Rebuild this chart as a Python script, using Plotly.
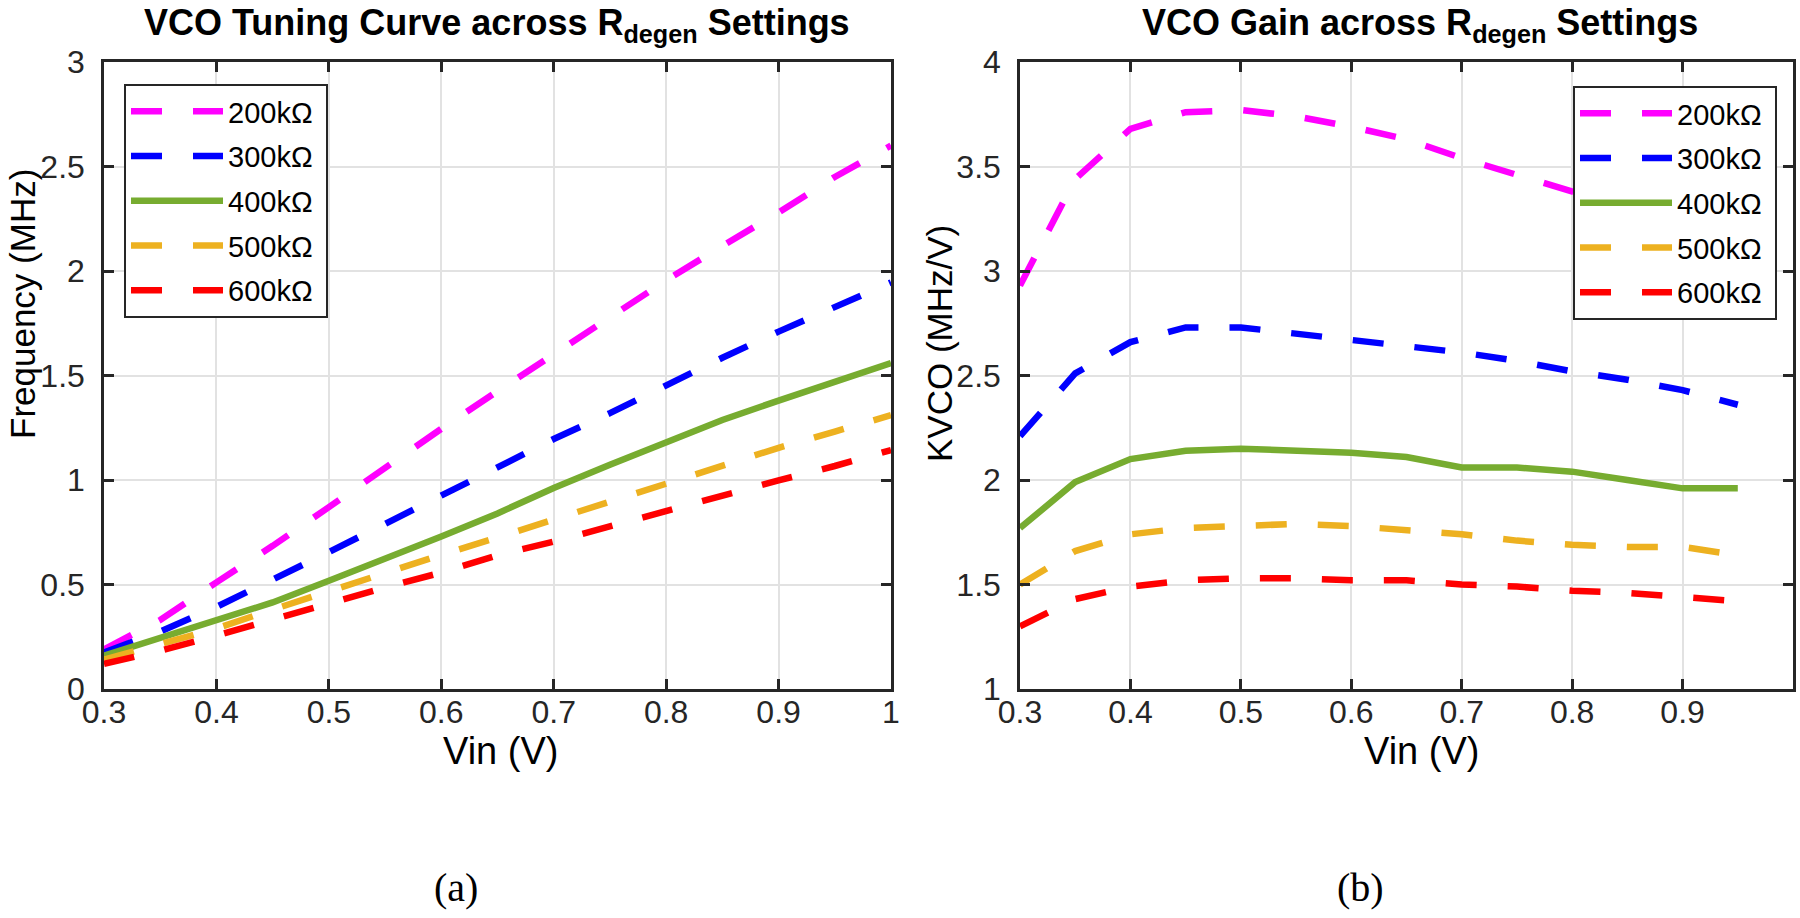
import plotly.graph_objects as go

# ---------------- data ----------------
vin_tuning = [0.30, 0.35, 0.40, 0.45, 0.50, 0.55, 0.60, 0.65, 0.70, 0.75, 0.80, 0.85, 0.90, 0.95, 1.00]
vin_gain = [0.30, 0.35, 0.40, 0.45, 0.50, 0.55, 0.60, 0.65, 0.70, 0.75, 0.80, 0.85, 0.90, 0.95]

series_names = ["200kΩ", "300kΩ", "400kΩ", "500kΩ", "600kΩ"]

freq_200k = [0.19, 0.33, 0.51, 0.685, 0.87, 1.06, 1.245, 1.425, 1.60, 1.78, 1.955, 2.12, 2.28, 2.45, 2.60]
freq_300k = [0.175, 0.275, 0.393, 0.52, 0.655, 0.79, 0.927, 1.06, 1.196, 1.32, 1.454, 1.585, 1.71, 1.83, 1.945]
freq_400k = [0.16, 0.247, 0.326, 0.414, 0.518, 0.62, 0.73, 0.84, 0.962, 1.073, 1.184, 1.287, 1.38, 1.466, 1.56]
freq_500k = [0.14, 0.218, 0.29, 0.38, 0.47, 0.553, 0.642, 0.725, 0.81, 0.90, 0.988, 1.067, 1.154, 1.232, 1.31]
freq_600k = [0.12, 0.183, 0.256, 0.334, 0.41, 0.486, 0.557, 0.64, 0.705, 0.78, 0.852, 0.923, 0.998, 1.067, 1.143]

kvco_200k = [2.93, 3.44, 3.68, 3.76, 3.77, 3.74, 3.69, 3.63, 3.54, 3.46, 3.38, 3.30, 3.22, 3.14]
kvco_300k = [2.21, 2.51, 2.66, 2.73, 2.73, 2.70, 2.67, 2.64, 2.61, 2.57, 2.52, 2.48, 2.43, 2.36]
kvco_400k = [1.77, 1.99, 2.10, 2.14, 2.15, 2.14, 2.13, 2.11, 2.06, 2.06, 2.04, 2.00, 1.96, 1.96]
kvco_500k = [1.50, 1.66, 1.74, 1.77, 1.78, 1.79, 1.78, 1.76, 1.74, 1.71, 1.69, 1.68, 1.68, 1.64]
kvco_600k = [1.30, 1.43, 1.49, 1.52, 1.53, 1.53, 1.52, 1.52, 1.50, 1.49, 1.47, 1.46, 1.44, 1.42]

x_ticks = [0.3, 0.4, 0.5, 0.6, 0.7, 0.8, 0.9, 1.0]
x_ticktext = ["0.3", "0.4", "0.5", "0.6", "0.7", "0.8", "0.9", "1"]
y1_ticks = [0, 0.5, 1, 1.5, 2, 2.5, 3]
y1_ticktext = ["0", "0.5", "1", "1.5", "2", "2.5", "3"]
y2_ticks = [1, 1.5, 2, 2.5, 3, 3.5, 4]
y2_ticktext = ["1", "1.5", "2", "2.5", "3", "3.5", "4"]

# ---------------- styles ----------------
colors = ["#FF00FF", "#0000FF", "#77AC30", "#EDB120", "#FF0000"]
dashes = ["31px,31px", "31px,31px", "solid", "31px,31px", "31px,31px"]
LW = 6.5
SANS = "Liberation Sans, Arial, Helvetica, sans-serif"
SERIF = "Liberation Serif, Times New Roman, serif"
TXT = "#262626"
NBSP = "\u00a0"

W, H = 1800, 918
def px(v):
    return v / W
def py(v):
    return 1 - v / H

freq_series = [freq_200k, freq_300k, freq_400k, freq_500k, freq_600k]
kvco_series = [kvco_200k, kvco_300k, kvco_400k, kvco_500k, kvco_600k]

fig = go.Figure()
for name, ys, c, d in zip(series_names, freq_series, colors, dashes):
    fig.add_trace(go.Scatter(x=vin_tuning, y=ys, mode="lines", name=name + NBSP,
                             line=dict(color=c, width=LW, dash=d),
                             legendgroup="a" + name,
                             xaxis="x", yaxis="y", legend="legend", hoverinfo="skip"))
for name, ys, c, d in zip(series_names, kvco_series, colors, dashes):
    fig.add_trace(go.Scatter(x=vin_gain, y=ys, mode="lines", name=name + NBSP,
                             line=dict(color=c, width=LW, dash=d),
                             legendgroup="b" + name,
                             xaxis="x2", yaxis="y2", legend="legend2", hoverinfo="skip"))

def axis(**kw):
    base = dict(showline=True, linecolor=TXT, linewidth=2.5, mirror="ticks",
                ticks="inside", ticklen=10, tickwidth=2.5, tickcolor=TXT,
                showgrid=True, gridcolor="#e2e2e2", gridwidth=1.6, zeroline=False,
                automargin=False, fixedrange=True,
                tickfont=dict(family=SANS, size=32, color=TXT))
    base.update(kw)
    return base

ydom = [py(689), py(62)]
left_dom = [px(104), px(891)]
right_dom = [px(1020), px(1793)]

def legend_cfg(x0, y0):
    return dict(x=px(x0), y=py(y0), xanchor="left", yanchor="top",
                bgcolor="white", bordercolor=TXT, borderwidth=2,
                font=dict(family=SANS, size=29, color="black"),
                itemwidth=92, tracegroupgap=4, groupclick="toggleitem")

fig.update_layout(
    template="none",
    width=W, height=H, autosize=False,
    margin=dict(l=0, r=0, t=0, b=0, pad=0),
    paper_bgcolor="white", plot_bgcolor="white",
    showlegend=True,
    xaxis=axis(domain=left_dom, range=[0.3, 1.0], tickvals=x_ticks, ticktext=x_ticktext,
               anchor="y", ticklabelstandoff=-7),
    yaxis=axis(domain=ydom, range=[0, 3], tickvals=y1_ticks, ticktext=y1_ticktext,
               anchor="x", ticklabelstandoff=10),
    xaxis2=axis(domain=right_dom, range=[0.3, 1.0], tickvals=x_ticks, ticktext=x_ticktext,
                anchor="y2", ticklabelstandoff=-7),
    yaxis2=axis(domain=ydom, range=[1, 4], tickvals=y2_ticks, ticktext=y2_ticktext,
                anchor="x2", ticklabelstandoff=10),
    legend=legend_cfg(124, 84),
    legend2=legend_cfg(1573, 86),
)

ann = []
def add_text(text, x, y, size, family, angle=0):
    ann.append(dict(text=text, x=px(x), y=py(y), xref="paper", yref="paper",
                    showarrow=False, xanchor="center", yanchor="middle",
                    textangle=angle,
                    font=dict(family=family, size=size, color="black")))

add_text("<b>VCO Tuning Curve across R<sub>degen</sub> Settings</b>", 497, 25, 36, SANS)
add_text("<b>VCO Gain across R<sub>degen</sub> Settings</b>", 1420, 25, 36, SANS)
add_text("Vin (V)", 500, 751, 38, SANS)
add_text("Vin (V)", 1421, 751, 38, SANS)
add_text("Frequency (MHz)", 22, 304, 35, SANS, angle=-90)
add_text("KVCO (MHz/V)", 940, 344, 35, SANS, angle=-90)
add_text("(a)", 456, 887, 40, SERIF)
add_text("(b)", 1360, 887, 40, SERIF)
fig.update_layout(annotations=ann)

fig.write_html("out.html", config={"displayModeBar": False},
               post_script="document.body.style.margin='0';")
